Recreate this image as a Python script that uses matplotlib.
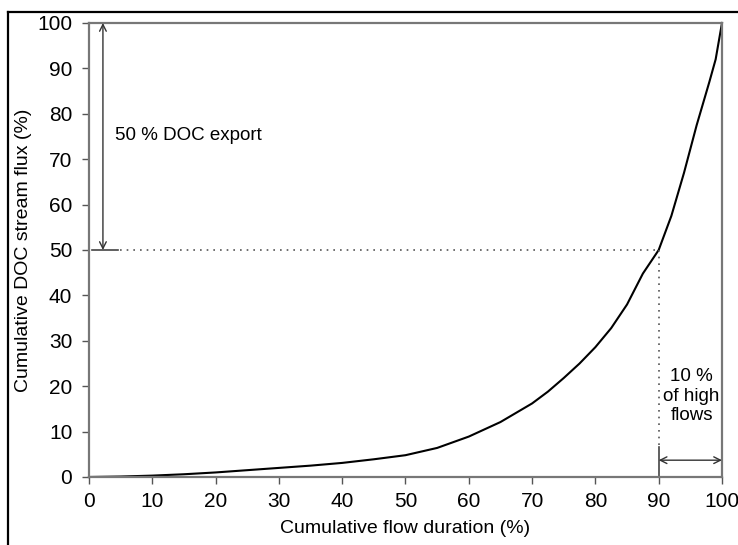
import matplotlib
matplotlib.use("Agg")
import matplotlib.pyplot as plt
from matplotlib.lines import Line2D

plt.rcParams['font.family'] = ['Liberation Sans', 'DejaVu Sans']

# cumulative flow duration (%) vs cumulative DOC flux (%)
flow_dur = [0, 5, 10, 15, 20, 25, 30, 35, 40, 45, 50, 55, 60, 65, 70, 72.5,
            75, 77.5, 80, 82.5, 85, 87.5, 90, 92, 94, 96, 98, 99, 100]
doc_flux = [0, 0.1, 0.3, 0.6, 1.0, 1.5, 2.0, 2.5, 3.1, 3.9, 4.8, 6.4, 8.9,
            12.1, 16.2, 18.8, 21.8, 25.0, 28.6, 32.8, 38.0, 44.8, 50, 57.5,
            67.0, 77.5, 87, 92, 100]

ticks = [0, 10, 20, 30, 40, 50, 60, 70, 80, 90, 100]
half_flux = 50
high_flow_start = 90

fig = plt.figure(figsize=(7.38, 5.45), dpi=100)
ax = fig.add_axes([0.1206, 0.1248, 0.8577, 0.833])

ax.plot(flow_dur, doc_flux, color='black', lw=1.5, clip_on=False)

# 50 % guide lines
ax.plot([0.5, 4.6], [half_flux, half_flux], color='#444', lw=1.2)
ax.plot([4.9, high_flow_start], [half_flux, half_flux], color='#555', lw=1.2,
        linestyle=(0, (1, 3)))
ax.plot([high_flow_start, high_flow_start], [half_flux, 6.5], color='#555', lw=1.2,
        linestyle=(0, (1, 3)))
ax.plot([high_flow_start, high_flow_start], [6.5, 0], color='#444', lw=1.2)

arrow = dict(arrowstyle='<->', color='#333', lw=1.0, shrinkA=0, shrinkB=0,
             mutation_scale=12)
ax.annotate('', xy=(2.2, 100), xytext=(2.2, half_flux), arrowprops=arrow)
ax.annotate('', xy=(high_flow_start, 3.7), xytext=(100, 3.7), arrowprops=arrow)

ax.text(4.1, 75.3, '50 % DOC export', fontsize=13.5, va='center', ha='left')
ax.text(95.2, 17.8, '10 %\nof high\nflows', fontsize=13.5, va='center', ha='center',
        linespacing=1.2)

ax.set_xlim(0, 100)
ax.set_ylim(0, 100)
ax.set_xticks(ticks)
ax.set_yticks(ticks)
ax.tick_params(direction='out', length=5, width=1, color='#555',
               labelsize=15, pad=6)
ax.tick_params(axis='y', pad=7)
for s in ax.spines.values():
    s.set_color('#777')
    s.set_linewidth(1.6)

ax.set_xlabel('Cumulative flow duration (%)', fontsize=14, labelpad=6)
ax.set_ylabel('Cumulative DOC stream flux (%)', fontsize=14, labelpad=4)

# black frame of the cropped figure
fig.add_artist(Line2D([8 / 738, 8 / 738], [0, 1 - 12 / 545], color='black', lw=1.6))
fig.add_artist(Line2D([8 / 738, 1], [1 - 12 / 545, 1 - 12 / 545], color='black', lw=1.6))

fig.savefig('out.png', dpi=100)
